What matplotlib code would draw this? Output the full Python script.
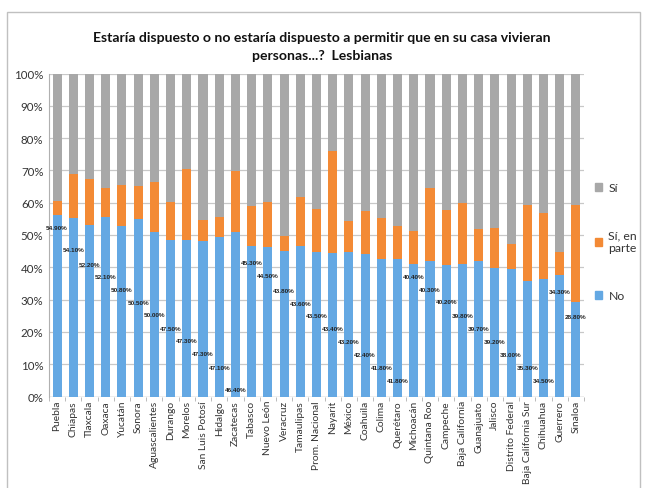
import matplotlib
matplotlib.use("Agg")
import matplotlib.pyplot as plt
import numpy as np
from matplotlib.patches import Patch, Rectangle
from matplotlib.ticker import MultipleLocator, FixedLocator, PercentFormatter

states = ["Puebla", "Chiapas", "Tlaxcala", "Oaxaca", "Yucatán", "Sonora",
          "Aguascalientes", "Durango", "Morelos", "San Luis Potosí", "Hidalgo",
          "Zacatecas", "Tabasco", "Nuevo León", "Veracruz", "Tamaulipas",
          "Prom. Nacional", "Nayarit", "México", "Coahuila", "Colima",
          "Querétaro", "Michoacán", "Quintana Roo", "Campeche", "Baja California",
          "Guanajuato", "Jalisco", "Distrito Federal", "Baja California Sur",
          "Chihuahua", "Guerrero", "Sinaloa"]

no = [56.3, 55.3, 53.2, 55.7, 52.7, 55.0, 50.8, 48.5, 48.5, 48.1, 49.5,
      50.8, 46.7, 46.4, 45.1, 46.7, 44.8, 44.4, 44.6, 44.2, 42.5, 42.5,
      41.0, 41.9, 40.7, 41.0, 41.9, 39.7, 39.4, 35.8, 36.5, 37.7, 29.3]

en_parte = [4.3, 13.5, 14.1, 8.7, 12.8, 10.1, 15.7, 11.6, 21.8, 6.5, 6.1,
            19.0, 12.4, 13.9, 4.5, 15.1, 13.2, 31.6, 9.8, 13.1, 12.8, 10.2,
            10.1, 22.6, 17.1, 18.9, 10.0, 12.6, 7.8, 23.6, 20.2, 7.1, 30.0]

si = [39.4, 31.2, 32.7, 35.6, 34.5, 34.9, 33.5, 39.9, 29.7, 45.4, 44.4,
      30.2, 40.9, 39.7, 50.4, 38.2, 42.0, 24.0, 45.6, 42.7, 44.7, 47.3,
      48.9, 35.5, 42.2, 40.1, 48.1, 47.7, 52.8, 40.6, 43.3, 55.2, 40.7]

label_values = [54.90, 54.10, 52.20, 52.10, 50.80, 50.50, 50.00, 47.50, 47.30,
                47.30, 47.10, 46.40, 45.30, 44.50, 43.80, 43.60, 43.50, 43.40,
                43.20, 42.40, 41.80, 41.80, 40.40, 40.30, 40.20, 39.80, 39.70,
                39.20, 38.00, 35.30, 34.50, 34.30, 28.80]

# layout: vertical placement of the (staggered) data labels, in axis %
label_pos = [52.2, 45.4, 40.9, 37.3, 33.0, 29.0, 25.4, 21.2, 17.3, 13.4, 9.0,
             2.1, 41.5, 37.4, 32.7, 28.9, 25.0, 21.2, 17.0, 13.1, 9.0, 5.1,
             37.1, 33.1, 29.4, 25.2, 21.1, 17.0, 12.9, 9.0, 4.9, 32.6, 24.7]

C_NO = "#64A8E3"
C_PARTE = "#F38A35"
C_SI = "#A8A8A8"

fig = plt.figure(figsize=(6.45, 4.89), dpi=100)
ax = fig.add_axes([49/645, 1-397.5/489, 535/645, 323/489])

x = np.arange(len(states))
no_a = np.array(no); pa = np.array(en_parte); si_a = np.array(si)
w = 0.56
ax.bar(x, no_a, w, color=C_NO, zorder=2)
ax.bar(x, pa, w, bottom=no_a, color=C_PARTE, zorder=2)
ax.bar(x, si_a, w, bottom=no_a+pa, color=C_SI, zorder=2)

for xi, v, yp in zip(x, label_values, label_pos):
    ax.text(xi, yp, f"{v:.2f}%", ha="center", va="center", fontsize=4.6,
            fontweight="bold", family="Liberation Sans", color="#222222", zorder=3)

ax.set_xlim(-0.5, len(states)-0.5)
ax.set_ylim(0, 100)
ax.yaxis.set_major_locator(MultipleLocator(10))
ax.yaxis.set_major_formatter(PercentFormatter(decimals=0))
ax.grid(axis="y", color="#C8C8C8", linewidth=0.9, zorder=0)
ax.set_axisbelow(True)
for s in ["top", "right", "bottom"]:
    ax.spines[s].set_visible(False)
ax.spines["left"].set_color("#B0B0B0")
ax.axhline(0, color="#B0B0B0", linewidth=0.9, zorder=1)

ax.set_xticks(x)
ax.set_xticklabels(states, rotation=90, fontsize=7.4, family="Lato", color="#333333")
ax.xaxis.set_minor_locator(FixedLocator(np.arange(-0.5, len(states), 1)))
ax.tick_params(axis="x", which="major", length=0, pad=2.5)
ax.tick_params(axis="x", which="minor", length=3, color="#B0B0B0")
ax.tick_params(axis="y", length=0, labelsize=8.3, labelcolor="#333333", pad=4)
for t in ax.get_yticklabels():
    t.set_family("Lato")

fig.text(322/645, 1-38/489, "Estaría dispuesto o no estaría dispuesto a permitir que en su casa vivieran",
         ha="center", va="center", fontsize=10.1, fontweight="bold", family="Lato", color="#111111")
fig.text(322/645, 1-56/489, "personas...?  Lesbianas",
         ha="center", va="center", fontsize=10.1, fontweight="bold", family="Lato", color="#111111")

handles = [Patch(color=C_SI), Patch(color=C_PARTE), Patch(color=C_NO)]
leg = fig.legend(handles, ["Sí", "Sí, en\nparte", "No"], loc="upper left",
                 bbox_to_anchor=(584/645, 1-172/489), frameon=False,
                 prop={"family": "Lato", "size": 8.8}, handlelength=0.6,
                 handleheight=0.6, handletextpad=0.5, labelspacing=3.0)
for t in leg.get_texts():
    t.set_color("#333333")

fig.patches.append(Rectangle((7/645, -0.1), 1-7/645-5/645, 1.1-13/489,
                             transform=fig.transFigure, fill=False,
                             edgecolor="#C0C0C0", linewidth=1.0))

fig.savefig("out.png", dpi=100)
